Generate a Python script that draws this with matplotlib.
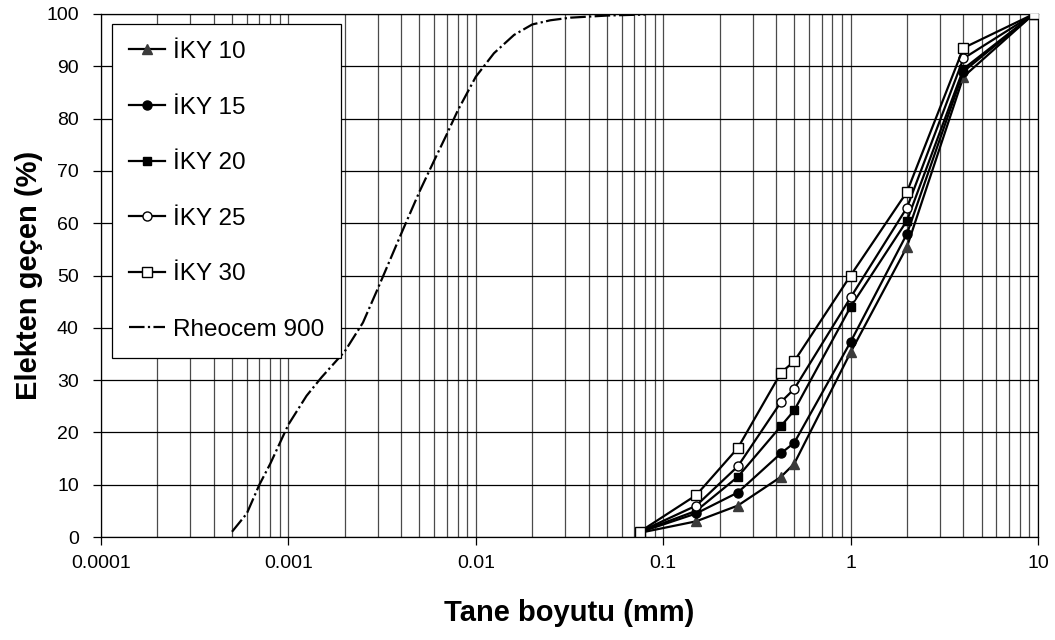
import matplotlib
matplotlib.use("Agg")
import matplotlib.pyplot as plt
from matplotlib.ticker import FixedLocator, NullFormatter, LogLocator

plt.rcParams['font.family'] = ['Liberation Sans', 'DejaVu Sans']

# sieve sizes (mm) and percent passing
sizes = [0.075, 0.15, 0.25, 0.425, 0.5, 1.0, 2.0, 4.0, 9.5]
iky10 = [0.8, 3.0, 6.0, 11.5, 14.0, 35.3, 55.5, 88.0, 100]
iky15 = [0.9, 4.5, 8.5, 16.0, 18.0, 37.3, 58.0, 89.0, 100]
iky20 = [1.0, 5.0, 11.5, 21.2, 24.2, 44.0, 60.5, 89.5, 100]
iky25 = [1.0, 6.0, 13.5, 25.8, 28.3, 45.8, 63.0, 91.5, 100]
iky30 = [1.0, 8.0, 17.0, 31.4, 33.6, 50.0, 66.0, 93.5, 100]

# Rheocem 900 grading
rh_size = [0.0005, 0.0006, 0.0007, 0.0008, 0.001, 0.00125, 0.0015, 0.002,
           0.0025, 0.003, 0.004, 0.005, 0.006, 0.007, 0.008, 0.01, 0.0125,
           0.016, 0.02, 0.025, 0.032, 0.04, 0.05, 0.063, 0.08]
rh_pass = [1.0, 4.5, 10.0, 14.0, 21.5, 27.0, 30.5, 35.5, 41.0, 47.5, 58.0,
           66.0, 72.0, 77.0, 81.5, 88.0, 92.5, 96.0, 98.0, 98.8, 99.3, 99.5,
           99.7, 99.8, 99.9]

xticks = [0.0001, 0.001, 0.01, 0.1, 1, 10]
xtick_labels = ["0.0001", "0.001", "0.01", "0.1", "1", "10"]
yticks = list(range(0, 101, 10))

fig = plt.figure(figsize=(10.55, 6.4), dpi=100)
ax = fig.add_axes([101 / 1055, 1 - 537 / 640, 937 / 1055, 523 / 640])

lw = 1.6
ms = 6.5
ax.plot(sizes, iky10, color='black', lw=lw, marker='^', ms=ms + 0.5,
        mfc='#3a3a3a', mec='#3a3a3a', label='İKY 10', zorder=5)
ax.plot(sizes, iky15, color='black', lw=lw, marker='o', ms=ms,
        mfc='black', mec='black', label='İKY 15', zorder=5)
ax.plot(sizes, iky20, color='black', lw=lw, marker='s', ms=ms - 0.5,
        mfc='black', mec='black', label='İKY 20', zorder=5)
ax.plot(sizes, iky25, color='black', lw=lw, marker='o', ms=ms,
        mfc='white', mec='black', mew=1.0, label='İKY 25', zorder=5)
ax.plot(sizes, iky30, color='black', lw=lw, marker='s', ms=ms,
        mfc='white', mec='black', mew=1.0, label='İKY 30', zorder=5)
ax.plot(rh_size, rh_pass, color='black', lw=1.6, dashes=(7, 1.5, 1, 1.5),
        label='Rheocem 900', zorder=4)

ax.set_xscale('log')
ax.set_xlim(1e-4, 10)
ax.set_ylim(0, 100)

ax.xaxis.set_major_locator(FixedLocator(xticks))
ax.set_xticklabels(xtick_labels)
ax.xaxis.set_minor_locator(LogLocator(base=10, subs=range(2, 10), numticks=50))
ax.xaxis.set_minor_formatter(NullFormatter())
ax.set_yticks(yticks)

ax.grid(True, which='major', axis='y', color='black', lw=0.9)
ax.grid(True, which='both', axis='x', color='#4a4a4a', lw=0.9)
ax.set_axisbelow(True)

ax.tick_params(axis='both', which='major', direction='out', length=6,
               width=0.9, labelsize=14)
ax.tick_params(axis='x', which='minor', length=0)
ax.tick_params(axis='y', pad=10)
ax.tick_params(axis='x', pad=7)

for sp in ax.spines.values():
    sp.set_color('black')
    sp.set_linewidth(0.9)

ax.set_xlabel('Tane boyutu (mm)', fontsize=21, fontweight='bold')
ax.xaxis.set_label_coords(0.5, -0.118)
ax.set_ylabel('Elekten geçen (%)', fontsize=21, fontweight='bold')
ax.yaxis.set_label_coords(-0.062, 0.5)

leg = ax.legend(loc='upper left', bbox_to_anchor=(0.0117, 0.981),
                fontsize=17.5, frameon=True, fancybox=False, framealpha=1,
                edgecolor='black', borderpad=0.7, labelspacing=1.38,
                handlelength=1.5, handletextpad=0.3, borderaxespad=0)
leg.get_frame().set_linewidth(0.9)
leg.set_zorder(10)

fig.savefig('out.png', dpi=100)
